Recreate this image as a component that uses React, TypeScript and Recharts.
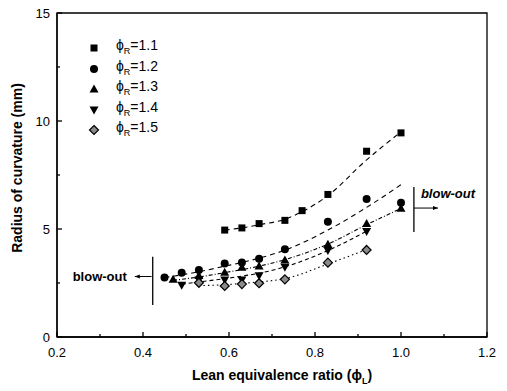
import React from 'react'
import {
  ComposedChart,
  Line,
  Scatter,
  XAxis,
  YAxis,
  ReferenceArea,
  ReferenceLine,
} from 'recharts'

// measured points (lean equivalence ratio vs radius of curvature)
const x11 = [0.59, 0.63, 0.67, 0.73, 0.77, 0.83, 0.92, 1.0]
const y11 = [4.95, 5.05, 5.25, 5.4, 5.85, 6.6, 8.6, 9.45]
const fit11 = [4.95, 5.05, 5.2, 5.45, 5.8, 6.55, 8.2, 9.5]

const x12 = [0.45, 0.49, 0.53, 0.59, 0.63, 0.67, 0.73, 0.83, 0.92, 1.0]
const y12 = [2.75, 2.98, 3.1, 3.4, 3.45, 3.62, 4.06, 5.34, 6.39, 6.22]
const fit12 = [2.75, 2.88, 3.02, 3.28, 3.45, 3.65, 4.02, 4.95, 6.0, 7.05]

const x13 = [0.47, 0.53, 0.59, 0.63, 0.67, 0.73, 0.83, 0.92, 1.0]
const y13 = [2.67, 2.85, 3.0, 3.23, 3.29, 3.56, 4.29, 5.26, 5.96]
const fit13 = [2.62, 2.78, 2.98, 3.12, 3.28, 3.58, 4.3, 5.2, 5.95]

const x14 = [0.49, 0.53, 0.59, 0.63, 0.67, 0.73, 0.83, 0.92]
const y14 = [2.4, 2.64, 2.64, 2.64, 2.84, 3.23, 4.0, 4.88]
const fit14 = [2.45, 2.55, 2.7, 2.82, 2.95, 3.25, 4.0, 4.9]

const x15 = [0.53, 0.59, 0.63, 0.67, 0.73, 0.83, 0.92]
const y15 = [2.51, 2.36, 2.45, 2.49, 2.67, 3.44, 4.03]
const fit15 = [2.38, 2.42, 2.48, 2.55, 2.7, 3.38, 4.05]

const seriesNames = ['1.1', '1.2', '1.3', '1.4', '1.5']

const xTicks = [0.2, 0.3, 0.4, 0.5, 0.6, 0.7, 0.8, 0.9, 1.0, 1.1, 1.2]
const yTicks = [0, 2.5, 5, 7.5, 10, 12.5, 15]

const FONT = '"Liberation Sans", Arial, sans-serif'

const zip = (xs: number[], ys: number[]) => xs.map((x, i) => ({ x, y: ys[i] }))

const Square = ({ cx, cy }: any) => <rect x={cx - 3.5} y={cy - 3.5} width={7} height={7} fill="#000" />
const Circle = ({ cx, cy }: any) => <circle cx={cx} cy={cy} r={4} fill="#000" />
const TriUp = ({ cx, cy }: any) => (
  <polygon points={`${cx},${cy - 4.5} ${cx + 4.5},${cy + 3.5} ${cx - 4.5},${cy + 3.5}`} fill="#000" />
)
const TriDown = ({ cx, cy }: any) => (
  <polygon points={`${cx},${cy + 4.5} ${cx + 4.5},${cy - 3.5} ${cx - 4.5},${cy - 3.5}`} fill="#000" />
)
const Diamond = ({ cx, cy }: any) => (
  <polygon
    points={`${cx},${cy - 4.5} ${cx + 4.5},${cy} ${cx},${cy + 4.5} ${cx - 4.5},${cy}`}
    fill="#8a8a8a"
    stroke="#000"
    strokeWidth={1.2}
  />
)
const shapes = [Square, Circle, TriUp, TriDown, Diamond]

const XTick = ({ x, y, payload }: any) => {
  const v = payload.value
  const major = Math.abs(v * 5 - Math.round(v * 5)) < 1e-6
  return (
    <g>
      <line x1={x} x2={x} y1={y} y2={y - (major ? 5 : 3)} stroke="#000" strokeWidth={1.3} />
      {major && (
        <text x={x} y={y + 20} textAnchor="middle" fontSize={13} fontFamily={FONT} fill="#000">
          {v.toFixed(1)}
        </text>
      )}
    </g>
  )
}

const YTick = ({ x, y, payload }: any) => {
  const v = payload.value
  const major = v % 5 === 0
  return (
    <g>
      <line x1={x} x2={x + (major ? 5 : 3)} y1={y} y2={y} stroke="#000" strokeWidth={1.3} />
      {major && (
        <text x={x - 7} y={y + 5} textAnchor="end" fontSize={13} fontFamily={FONT} fill="#000">
          {v}
        </text>
      )}
    </g>
  )
}

const LeftArrow = ({ x1, y1, x2, y2 }: any) => (
  <g>
    <line x1={x1} y1={y1} x2={x2} y2={y2} stroke="#000" strokeWidth={1} />
    <polygon points={`${x2},${y2} ${x2 + 5},${y2 - 2} ${x2 + 5},${y2 + 2}`} fill="#000" />
    <text x={x2 - 8} y={y2 + 4} textAnchor="end" fontSize={13} fontWeight="bold" fontFamily={FONT}>
      blow-out
    </text>
  </g>
)

const RightArrow = ({ x1, y1, x2, y2 }: any) => (
  <g>
    <line x1={x1} y1={y1} x2={x2} y2={y2} stroke="#000" strokeWidth={1} />
    <polygon points={`${x2},${y2} ${x2 - 5},${y2 - 2} ${x2 - 5},${y2 + 2}`} fill="#000" />
  </g>
)

const RightBar = ({ x1, y1, x2, y2 }: any) => (
  <g>
    <line x1={x1} y1={y1} x2={x2} y2={y2} stroke="#000" strokeWidth={1.3} />
    <text
      x={x1 + 7}
      y={Math.min(y1, y2) + 11}
      fontSize={13}
      fontWeight="bold"
      fontStyle="italic"
      fontFamily={FONT}
    >
      blow-out
    </text>
  </g>
)

const Bar = ({ x1, y1, x2, y2 }: any) => (
  <line x1={x1} y1={y1} x2={x2} y2={y2} stroke="#000" strokeWidth={1.3} />
)

const LegendBox = () => (
  <div
    style={{
      position: 'absolute',
      left: 84,
      top: 38,
      fontFamily: FONT,
      fontSize: 14,
      color: '#000',
      pointerEvents: 'none',
    }}
  >
    {seriesNames.map((n, i) => {
      const Shape = shapes[i]
      return (
        <div key={n} style={{ display: 'flex', alignItems: 'center', height: 20.5 }}>
          <svg width={20} height={20}>
            <Shape cx={10} cy={10} />
          </svg>
          <span style={{ marginLeft: 12, lineHeight: '20px' }}>
            ϕ<sub style={{ fontSize: 9, verticalAlign: -4 }}>R</sub>={n}
          </span>
        </div>
      )
    })}
  </div>
)

export default function App() {
  const points = [zip(x11, y11), zip(x12, y12), zip(x13, y13), zip(x14, y14), zip(x15, y15)]
  const fits = [zip(x11, fit11), zip(x12, fit12), zip(x13, fit13), zip(x14, fit14), zip(x15, fit15)]
  const dashes = ['5 4', '5 4', '4 2 1 2', '4 3', '1.5 3']

  return (
    <div style={{ position: 'absolute', left: 0, top: 0, width: 507, height: 391, background: '#fff' }}>
      <ComposedChart width={507} height={391} margin={{ top: 13, right: 20, bottom: 0, left: 0 }}>
        <XAxis
          type="number"
          dataKey="x"
          domain={[0.2, 1.2]}
          ticks={xTicks}
          interval={0}
          tick={<XTick />}
          tickLine={false}
          tickSize={0}
          tickMargin={0}
          height={54}
          axisLine={{ stroke: '#000', strokeWidth: 1.3 }}
          label={{
            value: 'Lean equivalence ratio (ϕL)',
            content: () => (
              <text x={282} y={380} textAnchor="middle" fontSize={14} fontWeight="bold" fontFamily={FONT}>
                Lean equivalence ratio (ϕ
                <tspan fontSize={9} dy={4}>L</tspan>
                <tspan dy={-4}>)</tspan>
              </text>
            ),
          }}
        />
        <YAxis
          type="number"
          domain={[0, 15]}
          ticks={yTicks}
          interval={0}
          tick={<YTick />}
          tickLine={false}
          tickSize={0}
          tickMargin={0}
          width={57}
          axisLine={{ stroke: '#000', strokeWidth: 1.3 }}
          label={{
            value: 'Radius of curvature (mm)',
            content: () => (
              <text
                x={22}
                y={168}
                transform="rotate(-90 22 168)"
                textAnchor="middle"
                fontSize={14}
                fontWeight="bold"
                fontFamily={FONT}
              >
                Radius of curvature (mm)
              </text>
            ),
          }}
        />
        <ReferenceArea x1={0.2} x2={1.2} y1={0} y2={15} fill="none" stroke="#000" strokeWidth={1.3} fillOpacity={0} />

        {fits.map((d, i) => (
          <Line
            key={'fit' + i}
            data={d}
            dataKey="y"
            type="monotone"
            stroke="#000"
            strokeWidth={1.1}
            strokeDasharray={dashes[i]}
            dot={false}
            activeDot={false}
            isAnimationActive={false}
            legendType="none"
          />
        ))}
        {points.map((d, i) => (
          <Scatter
            key={'pts' + i}
            data={d}
            dataKey="y"
            shape={shapes[i]}
            isAnimationActive={false}
            name={'ϕR=' + seriesNames[i]}
          />
        ))}

        <ReferenceLine segment={[{ x: 0.4226, y: 1.48 }, { x: 0.4226, y: 3.72 }]} shape={Bar} />
        <ReferenceLine segment={[{ x: 0.42, y: 2.8 }, { x: 0.381, y: 2.8 }]} shape={LeftArrow} />
        <ReferenceLine segment={[{ x: 1.03, y: 4.86 }, { x: 1.03, y: 6.94 }]} shape={RightBar} />
        <ReferenceLine segment={[{ x: 1.03, y: 5.97 }, { x: 1.086, y: 5.97 }]} shape={RightArrow} />
      </ComposedChart>
      <LegendBox />
    </div>
  )
}
